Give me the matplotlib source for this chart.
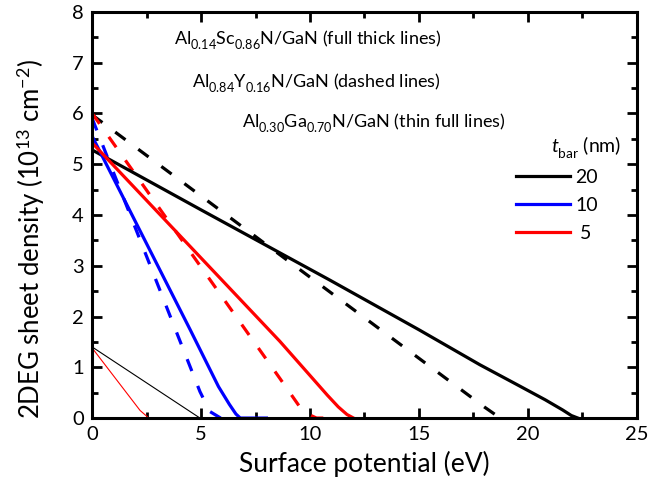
import matplotlib
matplotlib.use("Agg")
import matplotlib.pyplot as plt
from matplotlib.lines import Line2D
from matplotlib.ticker import MultipleLocator

plt.rcParams['font.family'] = ['Lato', 'DejaVu Sans']
plt.rcParams['mathtext.fontset'] = 'custom'
plt.rcParams['mathtext.rm'] = 'Lato'
plt.rcParams['mathtext.it'] = 'Lato:italic'

# lower subscripts, as in the chemical formulas of the labels
try:
    from matplotlib import _mathtext
    _mathtext.FontConstantsBase.sub1 = 0.6
    _mathtext.FontConstantsBase.sub2 = 0.7
except Exception:
    pass

# AlScN/GaN (thick solid)
sc20_x = [0, 5, 10.9, 15, 17.8, 19.5, 20.8, 21.6, 22.0, 22.3]
sc20_y = [5.28, 4.10, 2.72, 1.74, 1.05, 0.66, 0.36, 0.16, 0.05, 0.0]
sc10_x = [0, 4.5, 5.8, 6.3, 6.6, 6.8, 8.0]
sc10_y = [5.55, 1.74, 0.62, 0.27, 0.08, 0.0, 0.0]
sc5_x = [0, 8.62, 10.8, 11.3, 11.7, 12.0]
sc5_y = [5.42, 1.51, 0.45, 0.22, 0.07, 0.0]

# AlYN/GaN (dashed)
y20_x = [0, 10.8, 18.0, 18.5, 18.8]
y20_y = [5.97, 2.52, 0.22, 0.07, 0.0]
y10_x = [0, 4.95, 5.4, 5.9]
y10_y = [5.90, 0.52, 0.13, 0.0]
y5_x = [0, 8.62, 9.5, 10.0, 10.3, 10.8]
y5_y = [6.0, 0.78, 0.24, 0.06, 0.0, 0.0]

# AlGaN/GaN (thin solid)
ga20_x = [0, 4.95, 8.0]
ga20_y = [1.40, 0.0, 0.0]
ga5_x = [0, 2.2, 2.6, 10.0]
ga5_y = [1.38, 0.15, 0.0, 0.0]

legend_labels = ['20', '10', ' 5']
colors = ['black', 'blue', 'red']

fig = plt.figure(figsize=(6.49, 4.93), dpi=100)
ax = fig.add_axes([0.142, 0.152, 0.839, 0.824])

thick = 2.3
thin = 0.8
dash = (4, 5)

ax.plot(ga20_x, ga20_y, color='black', lw=thin)
ax.plot(ga5_x, ga5_y, color='red', lw=thin)

ax.plot(y20_x, y20_y, color='black', lw=thick, dashes=dash)
ax.plot(y10_x, y10_y, color='blue', lw=thick, dashes=dash)
ax.plot(y5_x, y5_y, color='red', lw=thick, dashes=dash)

ax.plot(sc20_x, sc20_y, color='black', lw=thick)
ax.plot(sc10_x, sc10_y, color='blue', lw=thick)
ax.plot(sc5_x, sc5_y, color='red', lw=thick)

ax.set_xlim(0, 25)
ax.set_ylim(0, 8)
ax.xaxis.set_major_locator(MultipleLocator(5))
ax.xaxis.set_minor_locator(MultipleLocator(2.5))
ax.yaxis.set_major_locator(MultipleLocator(1))
ax.yaxis.set_minor_locator(MultipleLocator(0.5))
ax.tick_params(which='both', direction='in', top=True, right=True, width=2,
               labelsize=14.5, pad=6)
ax.tick_params(which='major', length=7)
ax.tick_params(which='minor', length=4)
for s in ax.spines.values():
    s.set_linewidth(2.2)

ax.set_xlabel('Surface potential (eV)', fontsize=19)
ax.set_ylabel('2DEG sheet density (10$^{13}$ cm$^{-2}$)', fontsize=18.5)
ax.xaxis.set_label_coords(0.5, -0.082)
ax.yaxis.set_label_coords(-0.083, 0.44)

ax.text(3.75, 7.36, 'Al$_{0.14}$Sc$_{0.86}$N/GaN (full thick lines)', fontsize=13,
        va='baseline', ha='left')
ax.text(4.6, 6.51, 'Al$_{0.84}$Y$_{0.16}$N/GaN (dashed lines)', fontsize=13,
        va='baseline', ha='left')
ax.text(6.9, 5.72, 'Al$_{0.30}$Ga$_{0.70}$N/GaN (thin full lines)', fontsize=13,
        va='baseline', ha='left')

ax.text(0.843, 0.668, '$t_{\\mathrm{bar}}$ (nm)', transform=ax.transAxes,
        fontsize=14, ha='left', va='center')

handles = [Line2D([0], [0], color=c, lw=thick) for c in colors]
leg = ax.legend(handles, legend_labels, loc='upper left',
                bbox_to_anchor=(0.778, 0.613), frameon=False,
                fontsize=14, handlelength=2.8, handletextpad=0.25,
                labelspacing=0.56, borderpad=0, borderaxespad=0)

fig.savefig('out.png', dpi=100)
